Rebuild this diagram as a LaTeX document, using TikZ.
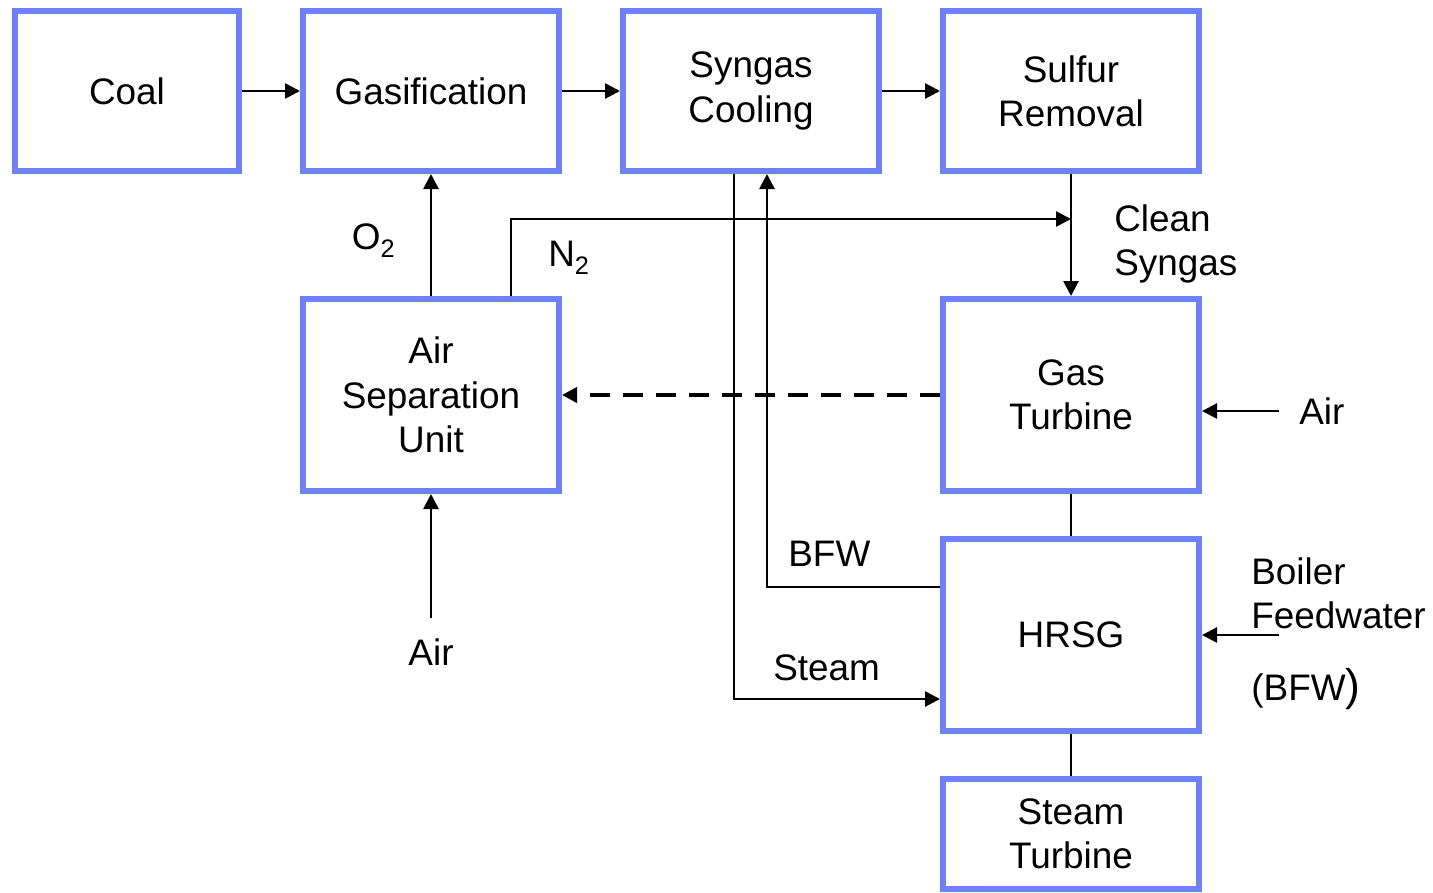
\documentclass[tikz,border=0pt]{standalone}
\usepackage{fontspec}
\setmainfont{Liberation Sans}
\usetikzlibrary{arrows.meta, positioning}
\definecolor{boxblue}{RGB}{112,128,248}
\newcommand{\lowtwo}{\raisebox{-0.08cm}{\fontsize{7.2}{7.2}\selectfont 2}}
\begin{document}
\begin{tikzpicture}[>={Triangle[length=0.15cm, width=0.15cm]}, node distance=0.58cm, line width=0.75pt,
    unit/.style={rectangle, draw=boxblue, line width=0.06cm, minimum width=2.56cm, minimum height=1.92cm, align=center, font=\fontsize{10.5}{12.6}\selectfont},
    tag/.style={inner sep=0pt, align=left, font=\fontsize{10.5}{12.6}\selectfont}]
        \useasboundingbox (0,0) rectangle (14.33,-8.92);

        % Blocs
        \node[unit, minimum width=2.24cm, minimum height=1.60cm] (coal) at (1.27,-0.91) {Coal};
        \node[unit, minimum height=1.60cm, right=of coal] (gasif) {Gasification};
        \node[unit, minimum height=1.60cm, right=of gasif] (cooling) {Syngas\\Cooling};
        \node[unit, minimum height=1.60cm, right=of cooling] (sulfur) {Sulfur\\Removal};
        \node[unit, below=1.22cm of gasif] (asu) {Air\\Separation\\Unit};
        \node[unit, below=1.22cm of sulfur] (gt) {Gas\\Turbine};
        \node[unit, below=0.42cm of gt] (hrsg) {HRSG};
        \node[unit, minimum height=1.10cm, below=0.42cm of hrsg] (st) {Steam\\Turbine};

        % Ligne principale
        \path[->] (coal) edge (gasif)
                  (gasif) edge (cooling)
                  (cooling) edge (sulfur);

        % Oxygene et azote
        \coordinate (mix) at ([yshift=-0.45cm]sulfur.south);
        \draw[->] (asu) -- node[tag, left=0.35cm, yshift=-0.06cm] {O\lowtwo} (gasif);
        \draw[->] ([xshift=0.80cm]asu.north) |- node[tag, pos=0.25, right=0.36cm] {N\lowtwo} (mix);
        \draw[->] (sulfur) -- node[tag, right=0.42cm, yshift=-0.09cm] {Clean\\Syngas} (gt);

        % Air
        \coordinate (airgt) at ([xshift=0.77cm, yshift=-0.16cm]gt.east);
        \coordinate (airasu) at ([yshift=-1.24cm]asu.south);
        \draw[->] (airgt) -- (airgt -| gt.east);
        \node[tag, right=0.19cm of airgt] (airgtlabel) {Air};
        \draw[->] (airasu) -- (asu);
        \node[tag, below=0.19cm of airasu] (airasulabel) {Air};
        \draw[->, dashed, line width=1.1pt, dash pattern=on 0.2cm off 0.13cm] (gt) -- (asu);

        % Turbines et HRSG
        \path (gt) edge (hrsg)
              (hrsg) edge (st);

        % Eau et vapeur
        \draw[->] ([yshift=0.48cm]hrsg.west) -| node[tag, pos=0.5, above right={0.19cm and 0.20cm}] {BFW} ([xshift=0.16cm]cooling.south);
        \draw[->] ([xshift=-0.17cm]cooling.south) |- node[tag, pos=0.5, above right={0.17cm and 0.38cm}] {Steam} ([yshift=-0.64cm]hrsg.west);
        \coordinate (bfwin) at ([xshift=0.77cm]hrsg.east);
        \draw[->] (bfwin) -- (hrsg);
        \node[tag, anchor=north west] (bfwlabel) at ([xshift=-0.29cm, yshift=0.79cm]bfwin) {Boiler\\Feedwater\\[0.28cm](BFW{\fontsize{12.6}{12.6}\selectfont )}};
    \end{tikzpicture}
\end{document}
